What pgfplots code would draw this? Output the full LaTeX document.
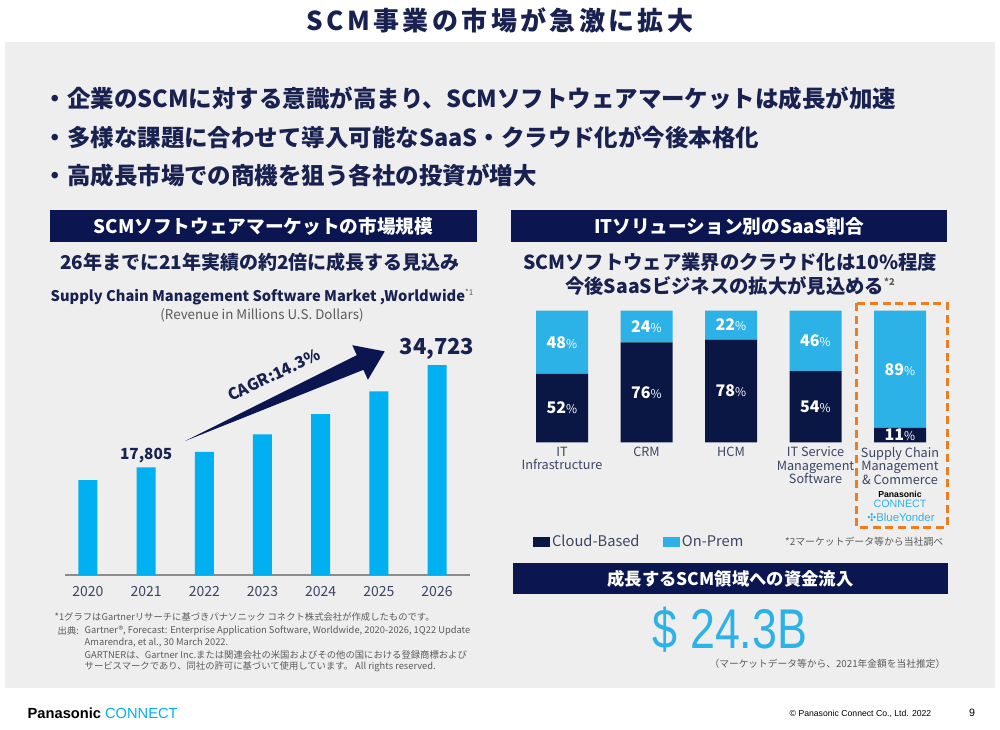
\documentclass[border=0pt]{standalone}
\usepackage{pgfplots}
\pgfplotsset{compat=1.18}
\usepackage{fontspec}
\setmainfont{Noto Sans CJK JP}
\newfontfamily\symfont{DejaVu Sans}
\newfontfamily\latinfont{Liberation Sans}
\definecolor{navy}{HTML}{0B1650}
\definecolor{tnavy}{HTML}{18214F}
\definecolor{lblue}{HTML}{00B0F0}
\definecolor{rblue}{HTML}{2DB2E8}
\definecolor{rdark}{HTML}{0A1744}
\definecolor{panel}{HTML}{EEEEEE}
\definecolor{ticktext}{HTML}{3C4464}
\definecolor{orng}{HTML}{EE7D22}
\definecolor{fngray}{HTML}{5A5A5A}
\newcommand{\fs}[2]{\fontsize{#1}{#2}\selectfont}
\pgfplotsset{sqlegend/.style={legend image code/.code={\fill[##1] (0pt,-3.4pt) rectangle (12.75pt,3.4pt);}}}
\begin{document}
\begin{tikzpicture}
\begin{scope}[x=0.75pt,y=-0.75pt]
\fill[white] (0,0) rectangle (1000,729);
\fill[panel] (5,42) rectangle (995,688);
\node[text=tnavy,font=\bfseries\fs{19.5pt}{20pt}] at (500,20) {\addfontfeature{LetterSpace=13}SCM事業の市場が急激に拡大};
% bullets
\node[anchor=west,text=tnavy,font=\bfseries\fs{17.6pt}{20pt}] at (39,98) {・企業のSCMに対する意識が高まり、SCMソフトウェアマーケットは成長が加速};
\node[anchor=west,text=tnavy,font=\bfseries\fs{17.6pt}{20pt}] at (39,137) {・多様な課題に合わせて導入可能なSaaS・クラウド化が今後本格化};
\node[anchor=west,text=tnavy,font=\bfseries\fs{17.6pt}{20pt}] at (39,175) {・高成長市場での商機を狙う各社の投資が増大};
% header boxes
\fill[navy] (50,210) rectangle (477,242);
\node[text=white,font=\bfseries\fs{14pt}{14pt}] at (263.5,226) {SCMソフトウェアマーケットの市場規模};
\fill[navy] (511,210) rectangle (947,242);
\node[text=white,font=\bfseries\fs{14pt}{14pt}] at (729,226) {ITソリューション別のSaaS割合};
% subheads
\node[text=tnavy,font=\bfseries\fs{14.25pt}{15pt}] at (260,262) {26年までに21年実績の約2倍に成長する見込み};
\node[text=tnavy,font=\bfseries\fs{14.5pt}{15pt}] at (730,262) {SCMソフトウェア業界のクラウド化は10\%程度};
\node[text=tnavy,font=\bfseries\fs{14.5pt}{15pt}] at (730,286) {今後SaaSビジネスの拡大が見込める{\color{fngray}\fs{7pt}{7pt}\raisebox{6pt}{*2}}};
% left chart titles
\node[text=tnavy,font=\bfseries\fs{11pt}{12pt}] at (262,297) {Supply Chain Management Software Market ,Worldwide{\color{fngray}\mdseries\fs{6pt}{6pt}\raisebox{5pt}{*1}}};
\node[text=fngray,font=\fs{10pt}{11pt}] at (262,315) {(Revenue in Millions U.S. Dollars)};
\end{scope}

% ---------- left bar chart ----------
\begin{axis}[
  at={(48.75pt,-431.25pt)}, anchor=south west,
  scale only axis, width=303.75pt, height=181.4pt,
  xmin=-0.395, xmax=6.567, ymin=0, ymax=40000,
  axis x line*=bottom, axis y line=none,
  x axis line style={draw=black!45, line width=1.1pt, -},
  xtick={0,1,2,3,4,5,6},
  xticklabels={2020,2021,2022,2023,2024,2025,2026},
  xtick style={draw=none},
  xticklabel style={text=ticktext, font=\fs{10.5pt}{10.5pt}, yshift=-1pt},
  ybar, bar width=14.25pt,
  clip=false
]
\addplot[fill=lblue, draw=none] coordinates {(0,15700) (1,17805) (2,20350) (3,23260) (4,26590) (5,30390) (6,34723)};
\node[anchor=south, text=tnavy, font=\bfseries\fs{11.5pt}{12pt}] at (axis cs:1,17805) {17,805};
\node[anchor=south, text=tnavy, font=\bfseries\fs{16.5pt}{17pt}, yshift=1pt] at (axis cs:6,34723) {34,723};
\end{axis}

% ---------- right stacked chart ----------
\begin{axis}[
  at={(389.81pt,-331.7pt)}, anchor=south west,
  scale only axis, width=316.875pt, height=98.7pt,
  xmin=-0.5, xmax=4.5, ymin=0, ymax=100,
  ybar stacked, bar width=39pt,
  axis x line*=bottom, axis y line=none,
  x axis line style={draw=none},
  xtick={0,1,2,3,4},
  xticklabels={IT\\Infrastructure, CRM, HCM, IT Service\\Management\\Software, Supply Chain\\Management\\\& Commerce},
  xtick style={draw=none},
  xticklabel style={align=center, text=ticktext, font=\fs{9.5pt}{10.1pt}},
  legend style={at={(0.031,-0.758)}, anchor=west, draw=none, fill=none,
    legend columns=2, font=\fs{11pt}{11pt}, text=ticktext,
    /tikz/every even column/.append style={column sep=16pt},
    inner sep=0pt, nodes={inner sep=1.5pt}},
  legend cell align=left,
  clip=false
]
\addplot[fill=rdark, draw=none, sqlegend] coordinates {(0,52) (1,76) (2,78) (3,54) (4,11)};
\addplot[fill=rblue, draw=none, sqlegend] coordinates {(0,48) (1,24) (2,22) (3,46) (4,89)};
\legend{Cloud-Based, On-Prem}
\end{axis}

% overlay axis for the percentage labels
\begin{axis}[
  at={(389.81pt,-331.7pt)}, anchor=south west,
  scale only axis, width=316.875pt, height=98.7pt,
  xmin=-0.5, xmax=4.5, ymin=0, ymax=100,
  hide axis, clip=false
]
\addplot[draw=none, mark=none, point meta=explicit,
  nodes near coords={\pgfmathprintnumber[assume math mode=true]{\pgfplotspointmeta}{\mdseries\fs{9pt}{9pt}\%}},
  every node near coord/.append style={anchor=center, text=white, font=\bfseries\fs{12pt}{12pt}, inner sep=0pt}]
  coordinates {(0,26)[52] (1,38)[76] (2,39)[78] (3,27)[54] (4,5.5)[11]
               (0,76)[48] (1,88)[24] (2,89)[22] (3,77)[46] (4,55.5)[89]};
\end{axis}

\begin{scope}[x=0.75pt,y=-0.75pt]
% arrow and CAGR
\fill[navy] (185,441) -- (363.4,369.8) -- (367.9,379.8) -- (384.7,351.4) -- (352.3,345.2) -- (356.8,355.2) -- cycle;
\node[text=tnavy,font=\bfseries\fs{12pt}{13pt},rotate=25,inner sep=0pt] at (274,375) {CAGR:14.3\%};
% orange box and logos
\draw[orng, line width=2.25pt, dash pattern=on 6pt off 3.5pt] (856,303) rectangle (947,527);
\node[font=\latinfont\bfseries\fs{6.5pt}{7pt}] at (900,494) {Panasonic};
\node[text=rblue,font=\latinfont\fs{8pt}{8pt}] at (900,504) {CONNECT};
\node[text=rblue,font=\latinfont\fs{8.5pt}{9pt}] at (901,517) {{\symfont\fs{8pt}{8pt}✣}BlueYonder};
\node[anchor=east,text=fngray,font=\fs{7.4pt}{8pt}] at (948,542) {*2マーケットデータ等から当社調べ};
% bottom box
\fill[navy] (513,563) rectangle (948,594);
\node[text=white,font=\bfseries\fs{13pt}{14pt}] at (730.5,578.5) {成長するSCM領域への資金流入};
\node[text=rblue] at (730,630) {\scalebox{0.8}[1]{\latinfont\fs{42pt}{42pt}\$ 24.3B}};
\node[anchor=east,text=fngray,font=\fs{7.3pt}{8pt}] at (950,664) {（マーケットデータ等から、2021年金額を当社推定）};
% footnotes
\node[anchor=west,text=fngray,font=\fs{7pt}{8pt}] at (50,617) {*1グラフはGartnerリサーチに基づきパナソニック コネクト株式会社が作成したものです。};
\node[anchor=west,text=fngray,font=\fs{7pt}{8pt}] at (53,631) {出典:};
\node[anchor=west,text=fngray,font=\fs{7pt}{8pt}] at (80,631) {Gartner®, Forecast: Enterprise Application Software, Worldwide, 2020-2026, 1Q22 Update};
\node[anchor=west,text=fngray,font=\fs{7pt}{8pt}] at (80,643) {Amarendra, et al., 30 March 2022.};
\node[anchor=west,text=fngray,font=\fs{7pt}{8pt}] at (80,655) {GARTNERは、Gartner Inc.または関連会社の米国およびその他の国における登録商標および};
\node[anchor=west,text=fngray,font=\fs{7pt}{8pt}] at (80,667) {サービスマークであり、同社の許可に基づいて使用しています。 All rights reserved.};
% footer
\node[anchor=west,font=\latinfont\fs{11pt}{12pt}] at (23,713) {\textbf{Panasonic} {\color{lblue}CONNECT}};
\node[anchor=west,font=\latinfont\fs{6.5pt}{7pt}] at (785,714) {© Panasonic Connect Co., Ltd. 2022};
\node[font=\latinfont\fs{8pt}{8pt}] at (972,713) {9};
\end{scope}
\end{tikzpicture}
\end{document}
